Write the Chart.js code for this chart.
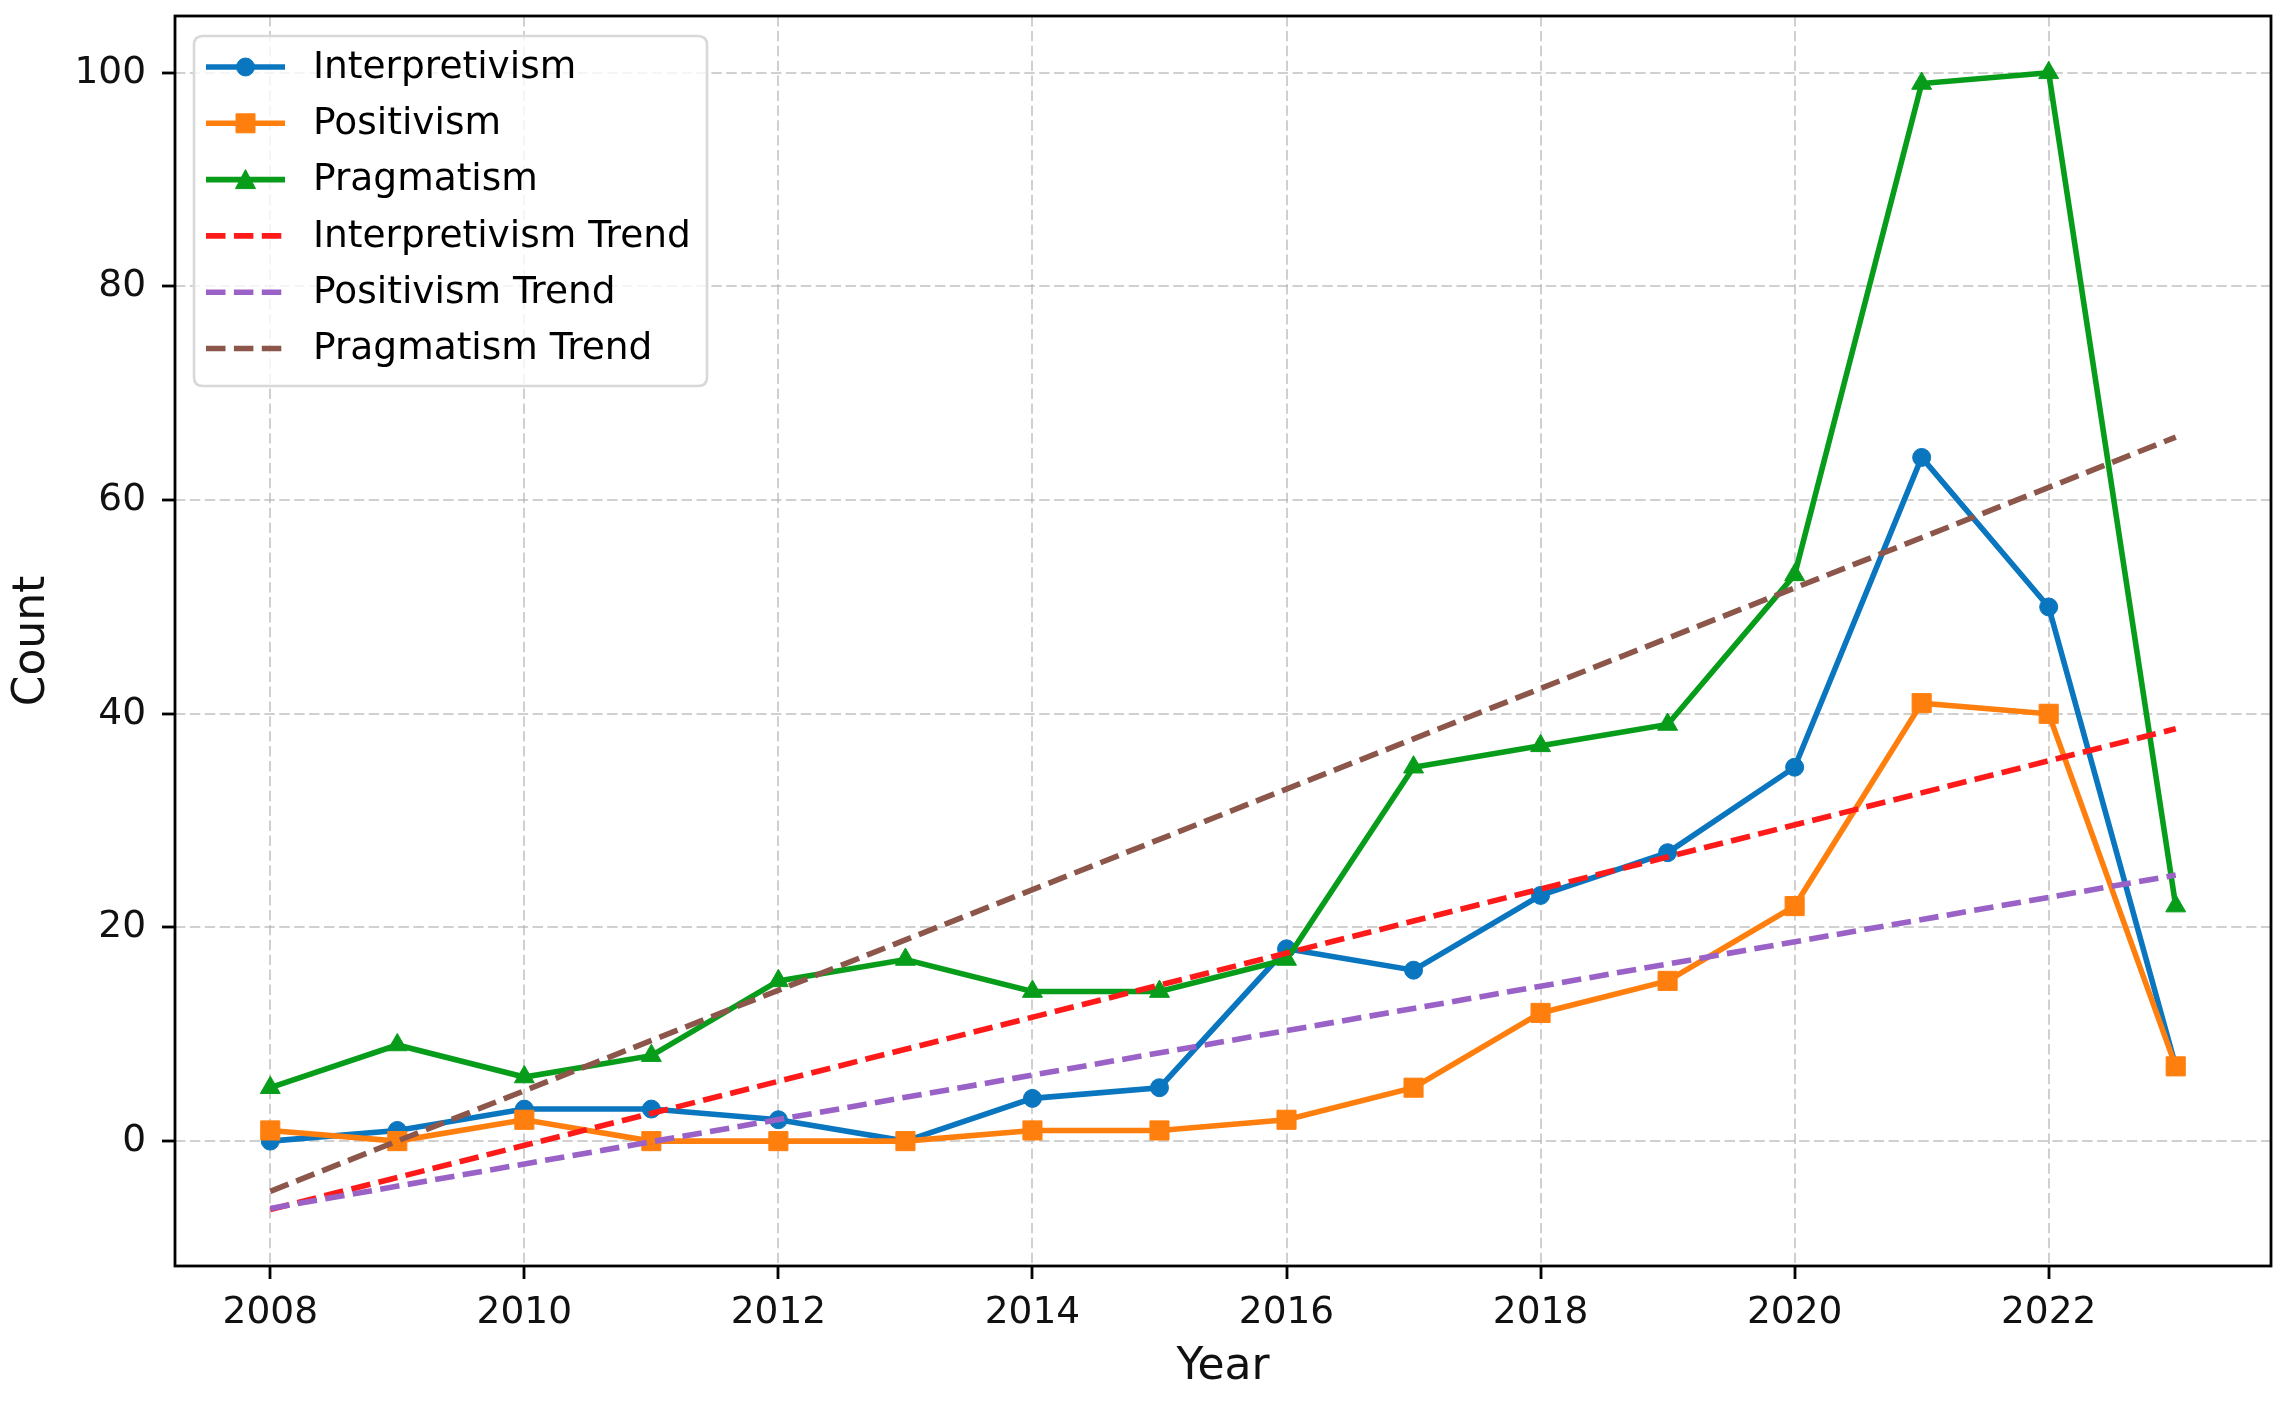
<!DOCTYPE html>
<html>
<head>
<meta charset="utf-8">
<script src="https://cdn.jsdelivr.net/npm/chart.js@4.4.1/dist/chart.umd.min.js"></script>
<style>
html,body{margin:0;padding:0;background:#ffffff;}
#wrap{width:2287px;height:1402px;position:relative;}
canvas{display:block;}
</style>
</head>
<body>
<div id="wrap"><canvas id="c" width="2287" height="1402"></canvas></div>
<script>
// ---- data ----
const years = [2008, 2009, 2010, 2011, 2012, 2013, 2014, 2015, 2016, 2017, 2018, 2019, 2020, 2021, 2022, 2023];
const interpretivism = [0, 1, 3, 3, 2, 0, 4, 5, 18, 16, 23, 27, 35, 64, 50, 7];
const positivism     = [1, 0, 2, 0, 0, 0, 1, 1, 2, 5, 12, 15, 22, 41, 40, 7];
const pragmatism     = [5, 9, 6, 8, 15, 17, 14, 14, 17, 35, 37, 39, 53, 99, 100, 22];
const trendYears = [2008, 2023];
const interpretivismTrend = [-6.4, 38.6];
const positivismTrend     = [-6.3, 24.9];
const pragmatismTrend     = [-4.7, 65.9];
const xTicks = [2008, 2010, 2012, 2014, 2016, 2018, 2020, 2022];
const yTicks = [0, 20, 40, 60, 80, 100];
const seriesLabels = ['Interpretivism', 'Positivism', 'Pragmatism', 'Interpretivism Trend', 'Positivism Trend', 'Pragmatism Trend'];

// ---- styles ----
const C_BLUE = '#0a76bf', C_ORANGE = '#ff7f0e', C_GREEN = '#079d1b';
const C_RED = '#ff1a1a', C_PURPLE = '#9a62c6', C_BROWN = '#8c564b';
const LW = 5.6;
const DASH = [19.5, 8.4];
const FONT = 'DejaVu Sans';
const TICK_SIZE = 37.5;

function pts(xs, ys) { return xs.map((x, i) => ({x: x, y: ys[i]})); }

function mainSet(label, data, color, style, radius, order) {
  return {
    label: label, data: pts(years, data), borderColor: color, backgroundColor: color,
    borderWidth: LW, pointStyle: style, pointRadius: radius, pointHoverRadius: radius,
    pointBorderWidth: 1, pointBackgroundColor: color, pointBorderColor: color,
    tension: 0, order: order, fill: false
  };
}
function trendSet(label, data, color, order) {
  return {
    label: label, data: pts(trendYears, data), borderColor: color, backgroundColor: color,
    borderWidth: LW, borderDash: DASH, pointRadius: 0, pointHoverRadius: 0,
    tension: 0, order: order, fill: false, borderCapStyle: 'butt'
  };
}

const datasets = [
  mainSet(seriesLabels[0], interpretivism, C_BLUE, 'circle', 9, 6),
  mainSet(seriesLabels[1], positivism, C_ORANGE, 'rect', 13.5, 5),
  mainSet(seriesLabels[2], pragmatism, C_GREEN, 'triangle', 11.5, 4),
  trendSet(seriesLabels[3], interpretivismTrend, C_RED, 3),
  trendSet(seriesLabels[4], positivismTrend, C_PURPLE, 2),
  trendSet(seriesLabels[5], pragmatismTrend, C_BROWN, 1)
];
const markerKinds = ['circle', 'square', 'triangle', null, null, null];

// frame + legend drawn on top, matplotlib-like
const framePlugin = {
  id: 'frame',
  afterDatasetsDraw(chart) {
    const a = chart.chartArea, ctx = chart.ctx;
    ctx.save();
    ctx.strokeStyle = '#000';
    ctx.lineWidth = 2.8;
    ctx.strokeRect(a.left, a.top, a.right - a.left, a.bottom - a.top);
    ctx.restore();
  }
};

function drawMarker(ctx, kind, x, y, color) {
  ctx.fillStyle = color;
  ctx.strokeStyle = color;
  ctx.lineWidth = 1;
  ctx.beginPath();
  if (kind === 'circle') {
    ctx.arc(x, y, 9, 0, Math.PI * 2);
  } else if (kind === 'square') {
    ctx.rect(x - 9.5, y - 9.5, 19, 19);
  } else if (kind === 'triangle') {
    ctx.moveTo(x, y - 10);
    ctx.lineTo(x + 10, y + 9);
    ctx.lineTo(x - 10, y + 9);
    ctx.closePath();
  }
  ctx.fill();
  ctx.stroke();
}

const legendPlugin = {
  id: 'mplLegend',
  afterDraw(chart) {
    const a = chart.chartArea, ctx = chart.ctx;
    const bx = a.left + 19, by = a.top + 20, bw = 513, bh = 350, r = 9;
    ctx.save();
    ctx.beginPath();
    ctx.moveTo(bx + r, by);
    ctx.lineTo(bx + bw - r, by);
    ctx.quadraticCurveTo(bx + bw, by, bx + bw, by + r);
    ctx.lineTo(bx + bw, by + bh - r);
    ctx.quadraticCurveTo(bx + bw, by + bh, bx + bw - r, by + bh);
    ctx.lineTo(bx + r, by + bh);
    ctx.quadraticCurveTo(bx, by + bh, bx, by + bh - r);
    ctx.lineTo(bx, by + r);
    ctx.quadraticCurveTo(bx, by, bx + r, by);
    ctx.closePath();
    ctx.fillStyle = 'rgba(255,255,255,0.8)';
    ctx.fill();
    ctx.strokeStyle = '#d8d8d8';
    ctx.lineWidth = 2.6;
    ctx.stroke();

    const x0 = bx + 12, x1 = bx + 91, xm = (x0 + x1) / 2;
    const tx = bx + 119;
    ctx.font = '37.5px "' + FONT + '"';
    ctx.textBaseline = 'middle';
    ctx.textAlign = 'left';
    chart.data.datasets.forEach((ds, i) => {
      const y = by + 31 + i * 56.3;
      ctx.save();
      ctx.strokeStyle = ds.borderColor;
      ctx.lineWidth = LW;
      ctx.lineCap = 'butt';
      if (ds.borderDash) ctx.setLineDash(ds.borderDash);
      ctx.beginPath();
      ctx.moveTo(x0, y);
      ctx.lineTo(x1, y);
      ctx.stroke();
      ctx.restore();
      if (markerKinds[i]) drawMarker(ctx, markerKinds[i], xm, y, ds.borderColor);
      ctx.fillStyle = '#000';
      ctx.fillText(ds.label, tx, y + 1);
    });
    ctx.restore();
  }
};

const gridColor = 'rgba(176,176,176,0.6)';
const GRID_DASH = [10.4, 4.5];

new Chart(document.getElementById('c'), {
  type: 'line',
  data: { datasets: datasets },
  plugins: [framePlugin, legendPlugin],
  options: {
    responsive: false,
    animation: false,
    devicePixelRatio: 1,
    events: [],
    layout: { padding: { top: 16, right: 16, left: 0, bottom: 0 } },
    plugins: { legend: { display: false }, tooltip: { enabled: false }, title: { display: false } },
    scales: {
      x: {
        type: 'linear',
        min: 2007.25,
        max: 2023.75,
        afterBuildTicks: (s) => { s.ticks = xTicks.map(v => ({value: v})); },
        afterFit: (s) => { s.height = 136; s.paddingLeft = 0; s.paddingRight = 0; },
        ticks: {
          autoSkip: false, maxRotation: 0, padding: 12,
          color: '#111', font: { family: FONT, size: TICK_SIZE },
          callback: (v) => String(v)
        },
        grid: {
          color: gridColor, lineWidth: 2, borderDash: GRID_DASH,
          drawTicks: true, tickLength: 13, tickColor: '#000', tickWidth: 2.8, tickBorderDash: []
        },
        border: { display: false, dash: GRID_DASH },
        title: {
          display: true, text: 'Year', color: '#111',
          font: { family: FONT, size: 44 }, padding: { top: 0, bottom: 8 }
        }
      },
      y: {
        type: 'linear',
        min: -11.69,
        max: 105.32,
        afterBuildTicks: (s) => { s.ticks = yTicks.map(v => ({value: v})); },
        afterFit: (s) => { s.width = 175; s.paddingTop = 0; s.paddingBottom = 0; },
        ticks: {
          padding: 16, color: '#111', font: { family: FONT, size: TICK_SIZE },
          callback: (v) => String(v)
        },
        grid: {
          color: gridColor, lineWidth: 2, borderDash: GRID_DASH,
          drawTicks: true, tickLength: 13, tickColor: '#000', tickWidth: 2.8, tickBorderDash: []
        },
        border: { display: false, dash: GRID_DASH },
        title: {
          display: true, text: 'Count', color: '#111',
          font: { family: FONT, size: 44 }, padding: { top: 6, bottom: 0 }
        }
      }
    }
  }
});
</script>
</body>
</html>
